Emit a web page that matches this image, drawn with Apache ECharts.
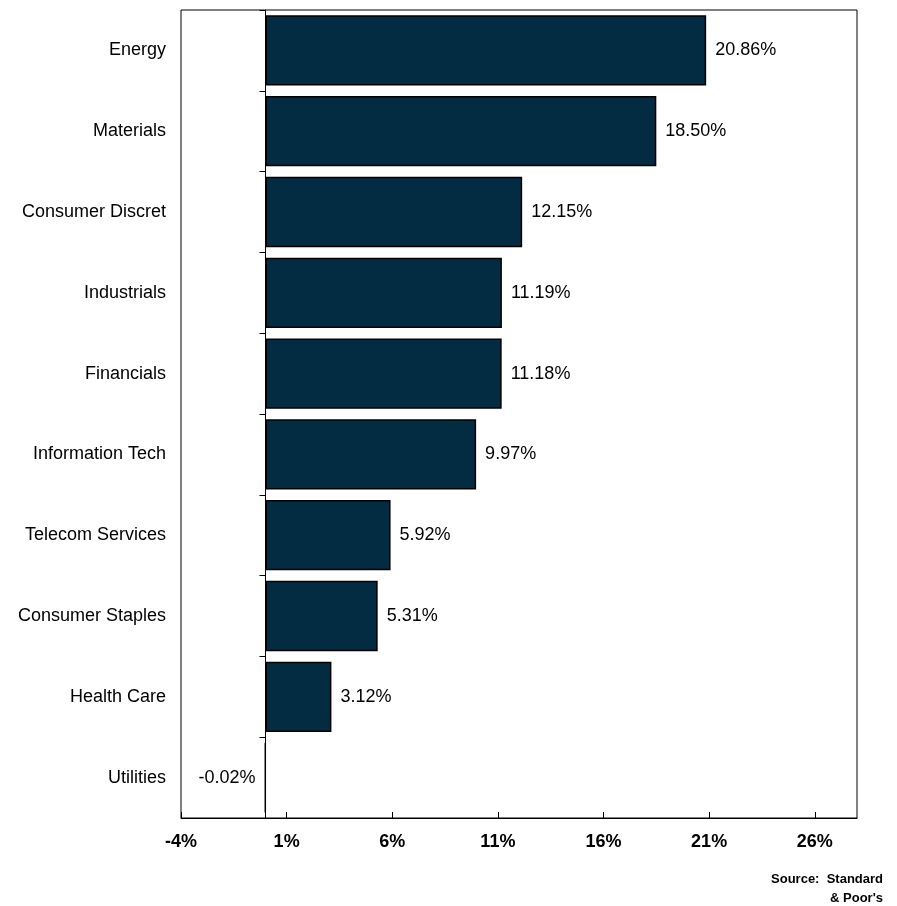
<!DOCTYPE html>
<html>
<head>
<meta charset="utf-8">
<script src="https://cdn.jsdelivr.net/npm/echarts@6/dist/echarts.min.js"></script>
<style>
html,body{margin:0;padding:0;background:#fff;}
#chart{width:897px;height:906px;}
</style>
</head>
<body>
<div id="chart"></div>
<script>
// sectors, top to bottom
var sectors = ["Energy","Materials","Consumer Discret","Industrials","Financials","Information Tech","Telecom Services","Consumer Staples","Health Care","Utilities"];
var returns = [20.86,18.50,12.15,11.19,11.18,9.97,5.92,5.31,3.12,-0.02];
var xMin = -4, xMax = 28, xStep = 5;

var font = '"Liberation Sans", Arial, sans-serif';

var barData = [];
for (var i = 0; i < returns.length; i++) {
	var d = {value: returns[i]};
	if (returns[i] < 0) d.label = {position: 'left'};
	barData.push(d);
}

var myChart = echarts.init(document.getElementById('chart'));
var option = {
	backgroundColor: '#fff',
	animation: false,
	textStyle: {fontFamily: font},
	grid: {
		left: 181, right: 40, top: 10, bottom: 88,
		containLabel: false, outerBoundsMode: 'none',
		show: true, borderColor: '#000', borderWidth: 1, backgroundColor: 'transparent'
	},
	xAxis: {
		type: 'value',
		min: xMin, max: xMax, interval: xStep,
		axisLine: {show: true, onZero: false, lineStyle: {color: '#000', width: 1}},
		axisTick: {show: true, inside: true, length: 6, lineStyle: {color: '#000'}},
		axisLabel: {
			showMaxLabel: false,
			margin: 15,
			color: '#000', fontSize: 18, fontWeight: 'bold',
			formatter: function (v) { return v + '%'; }
		},
		splitLine: {show: false}
	},
	yAxis: [
		{
			// labels on the left edge
			type: 'category', data: sectors, inverse: true,
			axisLine: {show: false, onZero: false},
			axisTick: {show: false},
			axisLabel: {color: '#000', fontSize: 18, margin: 15}
		},
		{
			// the zero line with its ticks
			type: 'category', data: sectors, inverse: true, position: 'left',
			axisLine: {show: true, onZero: true, lineStyle: {color: '#000', width: 1}},
			axisTick: {show: true, length: 6, lineStyle: {color: '#000'}},
			axisLabel: {show: false}
		}
	],
	series: [
		{
			type: 'bar',
			barCategoryGap: '13%',
			itemStyle: {color: '#032c43', borderColor: '#000', borderWidth: 1.5},
			label: {
				show: true, position: 'right', distance: 9,
				color: '#000', fontSize: 18,
				formatter: function (p) { return p.value.toFixed(2) + '%'; }
			},
			data: barData
		}
	],
	graphic: [
		{
			type: 'text', x: 883, y: 870,
			style: {
				text: 'Source:  Standard\n& Poor\'s', align: 'right',
				font: 'bold 13px "Liberation Sans", Arial, sans-serif', fill: '#000', lineHeight: 19
			}
		}
	]
};
myChart.setOption(option);
</script>
</body>
</html>
